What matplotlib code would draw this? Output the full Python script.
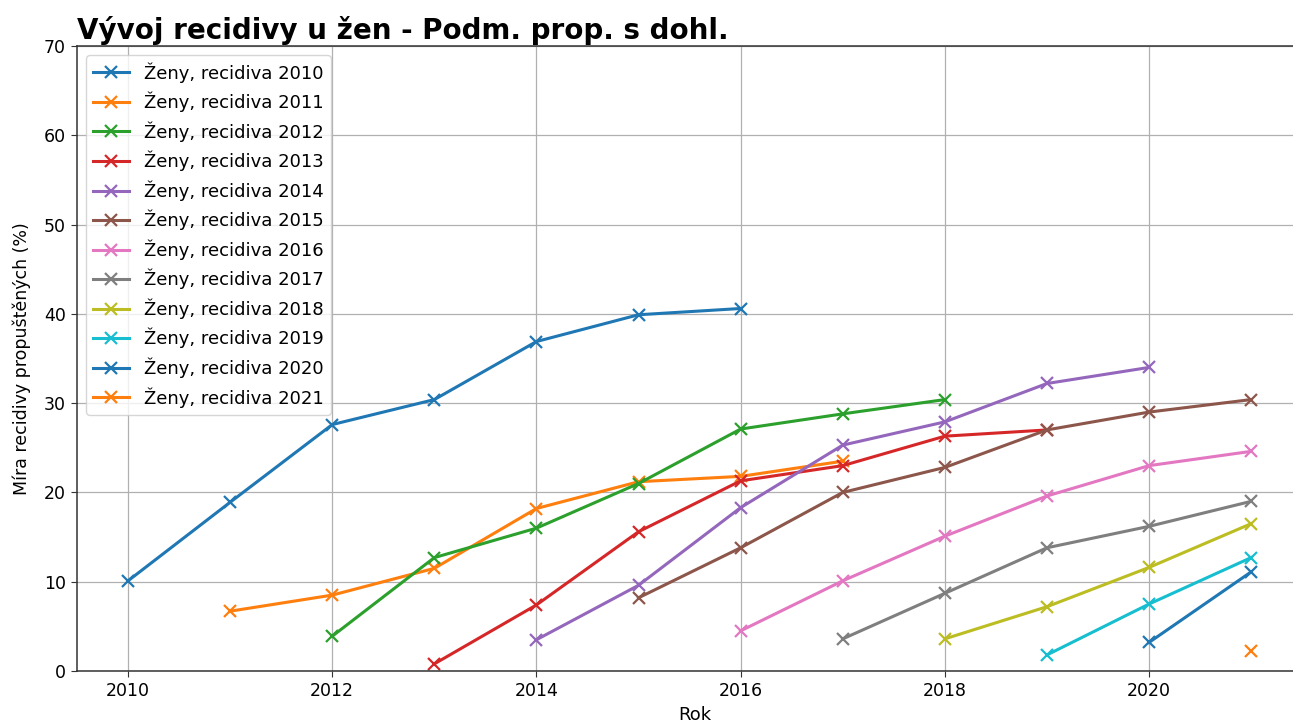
import matplotlib
matplotlib.use("Agg")
import matplotlib.pyplot as plt

years = list(range(2010, 2022))
cohorts = [2010, 2011, 2012, 2013, 2014, 2015, 2016, 2017, 2018, 2019, 2020, 2021]

r2010 = [10.1, 18.9, 27.6, 30.4, 36.9, 39.9, 40.6]
r2011 = [6.7, 8.5, 11.5, 18.2, 21.2, 21.8, 23.5]
r2012 = [3.9, 12.7, 16.0, 21.0, 27.1, 28.8, 30.4]
r2013 = [0.8, 7.4, 15.6, 21.3, 23.0, 26.3, 27.0]
r2014 = [3.5, 9.6, 18.3, 25.3, 27.9, 32.2, 34.0]
r2015 = [8.2, 13.8, 20.0, 22.8, 27.0, 29.0, 30.4]
r2016 = [4.5, 10.1, 15.1, 19.6, 23.0, 24.6]
r2017 = [3.6, 8.7, 13.8, 16.2, 19.0]
r2018 = [3.6, 7.2, 11.6, 16.5]
r2019 = [1.8, 7.5, 12.7]
r2020 = [3.2, 11.1]
r2021 = [2.2]

series = [r2010, r2011, r2012, r2013, r2014, r2015, r2016, r2017, r2018, r2019, r2020, r2021]

fig = plt.figure(figsize=(12.93, 7.23), dpi=100)
ax = fig.add_axes([77/1293, 1 - 671/723, (1312.4 - 77)/1293, (671 - 46)/723])

colors = plt.rcParams['axes.prop_cycle'].by_key()['color']
for i, (c, vals) in enumerate(zip(cohorts, series)):
    xs = list(range(c, c + len(vals)))
    ax.plot(xs, vals, marker='x', markersize=9, markeredgewidth=1.6, linewidth=2.2,
            color=colors[i % len(colors)], label=f"Ženy, recidiva {c}")

ax.set_xlim(2009.5, 2021.6)
ax.set_ylim(0, 70)
ax.set_xticks([2010, 2012, 2014, 2016, 2018, 2020])
ax.grid(True, color='#b0b0b0', linewidth=0.9)
ax.set_axisbelow(True)
for s in ax.spines.values():
    s.set_color('#333333')
    s.set_linewidth(1.1)
ax.tick_params(labelsize=12.5, length=4.5, color='#333333')
ax.set_xlabel("Rok", fontsize=13)
ax.set_ylabel("Míra recidivy propuštěných (%)", fontsize=12.5, labelpad=9)
ax.set_title("Vývoj recidivy u žen - Podm. prop. s dohl.", loc='left',
             fontsize=20, fontweight='bold', pad=5)
ax.legend(loc='upper left', fontsize=13)

fig.savefig("out.png", dpi=100)
